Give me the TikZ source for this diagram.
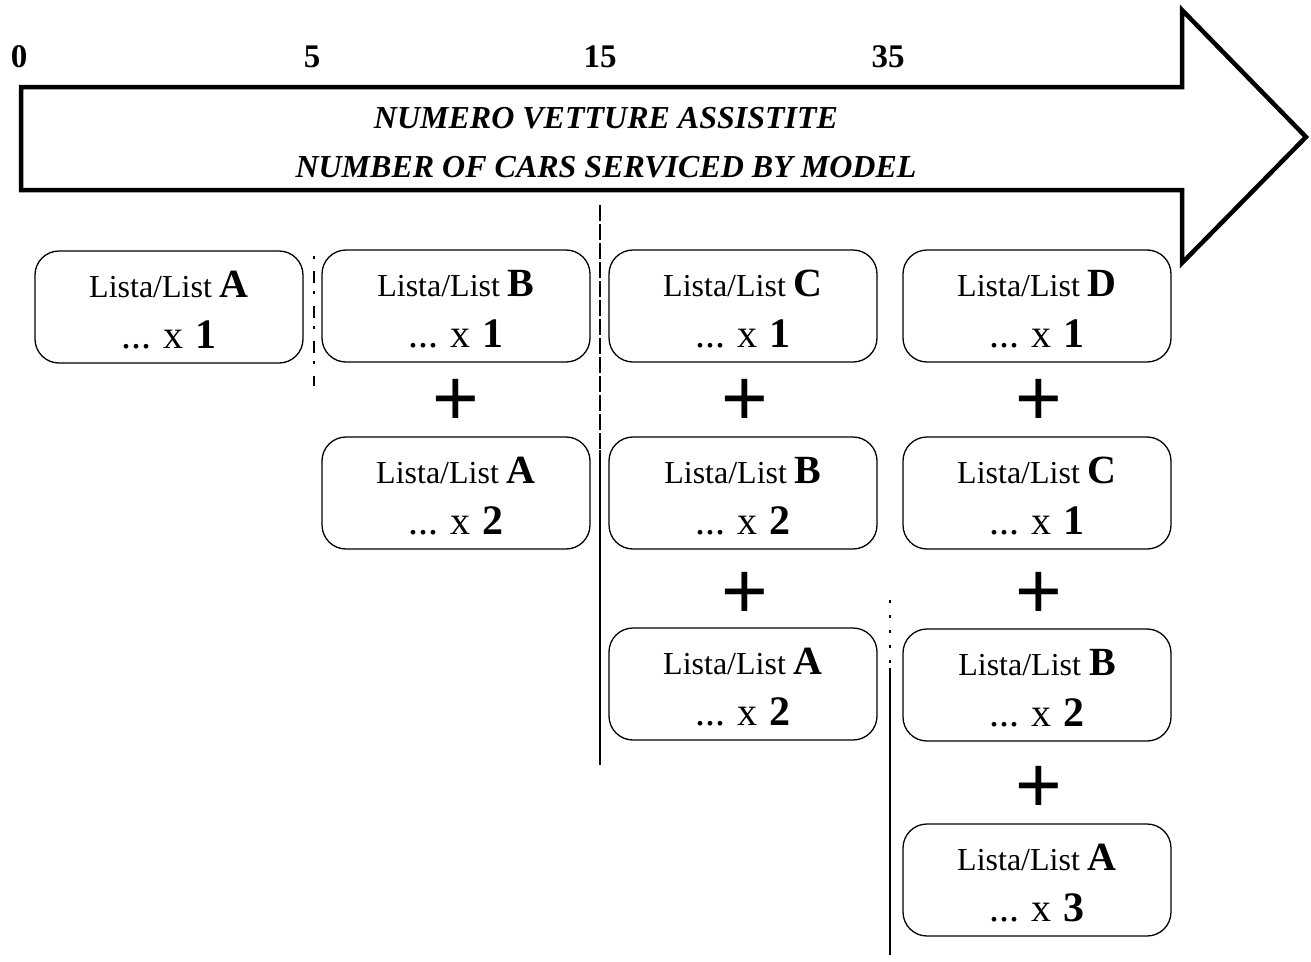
\documentclass[tikz,border=0pt]{standalone}
\usepackage{fontspec}
\setmainfont{Liberation Serif}
\newfontfamily\plusfont{Liberation Sans}
\newcommand\mkbox[5]{%
  \node[listbox] (#1) at (#2,#3) {};
  \node[ltext] (#1t) at ([yshift=10pt]#1.center) {{\fontsize{32}{32}\selectfont Lista/List }{\fontsize{40}{40}\selectfont\bfseries #4}};
  \node[ltext] (#1n) at ([yshift=-41pt]#1.center) {{\fontsize{40}{40}\selectfont ...\hspace{0.3em}x\hspace{0.28em}}{\fontsize{42}{42}\selectfont\bfseries #5}};
}
\begin{document}
\begin{tikzpicture}[x=1pt,y=-1pt,
  listbox/.style={draw, rounded corners=24pt, line width=1.3pt, minimum width=268pt, minimum height=112pt, inner sep=0pt},
  ltext/.style={anchor=base, inner sep=0pt},
  plussign/.style={inner sep=0pt, font=\plusfont\fontsize{80}{80}\selectfont},
  tick/.style={anchor=base, inner sep=0pt, font=\bfseries\fontsize{33}{33}\selectfont},
  head/.style={anchor=base, inner sep=0pt, font=\bfseries\itshape\fontsize{32}{32}\selectfont},
  sep/.style={line width=1.2pt}]
\useasboundingbox (0,0) rectangle (1311,961);
% big arrow
\draw[line width=4.5pt, line join=miter] (21,87) -- (1182,87) -- (1182,10) -- (1306,137) -- (1182,263) -- (1182,190) -- (21,190) -- cycle;
% scale numbers
\node[tick] (n0) at (19,67) {0};
\node[tick] (n5) at (312,67) {5};
\node[tick] (n15) at (600,67) {15};
\node[tick] (n35) at (888,67) {35};
% header text
\node[head] (h1) at (606,128) {NUMERO VETTURE ASSISTITE};
\node[head] (h2) at (606,177) {NUMBER OF CARS SERVICED BY MODEL};
% column 1
\mkbox{a1}{169}{307}{A}{1}
% column 2
\mkbox{b1}{456}{306}{B}{1}
\node[plussign] (p21) at (456,402) {+};
\mkbox{b2}{456}{493}{A}{2}
% column 3
\mkbox{c1}{743}{306}{C}{1}
\node[plussign] (p31) at (745,402) {+};
\mkbox{c2}{743}{493}{B}{2}
\node[plussign] (p32) at (745,595) {+};
\mkbox{c3}{743}{684}{A}{2}
% column 4
\mkbox{d1}{1037}{306}{D}{1}
\node[plussign] (p41) at (1039,402) {+};
\mkbox{d2}{1037}{493}{C}{1}
\node[plussign] (p42) at (1039,595) {+};
\mkbox{d3}{1037}{685}{B}{2}
\node[plussign] (p43) at (1039,789) {+};
\mkbox{d4}{1037}{880}{A}{3}
% separators
\coordinate (s1a) at (314,256);
\coordinate (s1b) at (314,386);
\draw[sep, dash pattern=on 3pt off 12pt on 12pt off 8pt] (s1a) -- (s1b);
\coordinate (s2a) at (600,205);
\coordinate (s2m) at (600,450);
\coordinate (s2b) at (600,765);
\draw[sep, dash pattern=on 16pt off 3pt] (s2a) -- (s2m);
\draw[sep] (s2m) -- (s2b);
\coordinate (s3a) at (890,600);
\coordinate (s3m) at (890,668);
\coordinate (s3b) at (890,955);
\draw[sep, dash pattern=on 3pt off 12pt] (s3a) -- (s3m);
\draw[sep] (s3m) -- (s3b);
\end{tikzpicture}
\end{document}
